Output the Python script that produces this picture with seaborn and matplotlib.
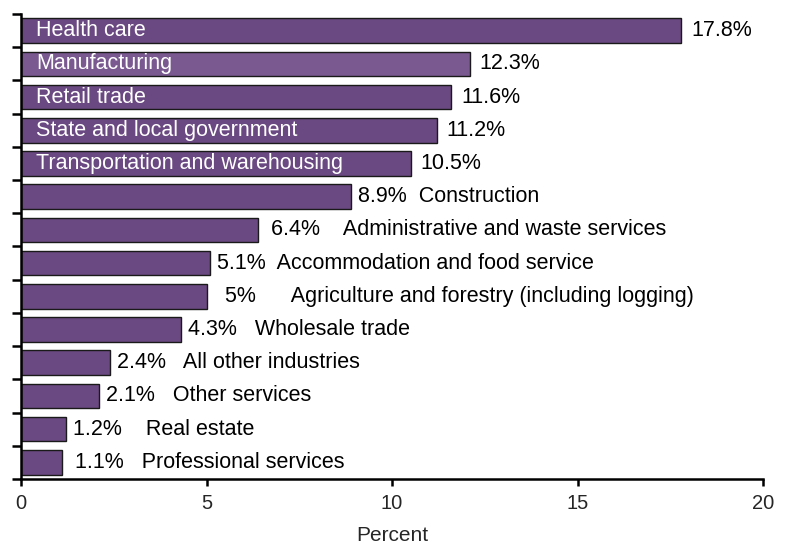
import matplotlib
matplotlib.use("Agg")
import matplotlib.pyplot as plt
import seaborn as sns
import pandas as pd
import numpy as np

industries = [
    "Health care", "Manufacturing", "Retail trade", "State and local government",
    "Transportation and warehousing", "Construction", "Administrative and waste services",
    "Accommodation and food service", "Agriculture and forestry (including logging)",
    "Wholesale trade", "All other industries", "Other services", "Real estate",
    "Professional services",
]
values = [17.8, 12.1, 11.6, 11.2, 10.5, 8.9, 6.4, 5.1, 5, 4.3, 2.4, 2.1, 1.2, 1.1]
value_labels = ["17.8%", "12.3%", "11.6%", "11.2%", "10.5%", "8.9%", "6.4%", "5.1%",
                "5%", "4.3%", "2.4%", "2.1%", "1.2%", "1.1%"]
inside_count = 5
x_ticks = [0, 5, 10, 15, 20]
x_label = "Percent"

lead_spaces = [0, 0, 0, 0, 0, 0, 1, 0, 2, 0, 0, 0, 0, 1]
mid_spaces = [0, 0, 0, 0, 0, 2, 4, 2, 6, 3, 3, 3, 4, 3]

sns.set_style("white")
plt.rcParams["font.family"] = ["Liberation Sans", "DejaVu Sans"]

df = pd.DataFrame({"industry": industries, "value": values})
base = "#6a4881"
highlight = "#7a5991"
palette = {ind: (highlight if ind == "Manufacturing" else base) for ind in industries}

fig = plt.figure(figsize=(7.85, 5.44), dpi=100)
ax = fig.add_axes([0.0268, 0.1195, 0.9452, 0.8548])

sns.barplot(data=df, x="value", y="industry", hue="industry", palette=palette,
            orient="h", width=0.74, edgecolor="#1a1a1a", linewidth=1.0,
            legend=False, saturation=1, ax=ax)

ax.set_xlim(0, 20)
ax.set_ylim(len(industries) - 0.5, -0.5)
ax.set_xticks(x_ticks)
ax.set_xticklabels([str(t) for t in x_ticks], fontsize=14.5)
ax.set_yticks(np.arange(-0.5, len(industries) + 0.5, 1.0))
ax.set_yticklabels([])
ax.set_ylabel("")
ax.set_xlabel(x_label, fontsize=15, labelpad=9)

for side in ["top", "right"]:
    ax.spines[side].set_visible(False)
for side in ["left", "bottom"]:
    ax.spines[side].set_linewidth(1.8)
    ax.spines[side].set_color("black")
ax.tick_params(axis="both", which="both", direction="out", color="black",
               width=1.8, length=5, left=True, bottom=True)
ax.tick_params(axis="y", length=6.5)
ax.tick_params(axis="x", pad=6)

for i, (ind, v, lab) in enumerate(zip(industries, values, value_labels)):
    if i < inside_count:
        ax.annotate(ind, xy=(0, i), xytext=(11, 0), textcoords="offset points",
                    va="center", ha="left", color="white", fontsize=15.5)
        ax.annotate(lab, xy=(v, i), xytext=(7, 0), textcoords="offset points",
                    va="center", ha="left", color="black", fontsize=15.5)
    else:
        text = " " * lead_spaces[i] + lab + " " * mid_spaces[i] + ind
        ax.annotate(text, xy=(v, i), xytext=(5, 0), textcoords="offset points",
                    va="center", ha="left", color="black", fontsize=15.5)

fig.savefig("out.png", dpi=100)
